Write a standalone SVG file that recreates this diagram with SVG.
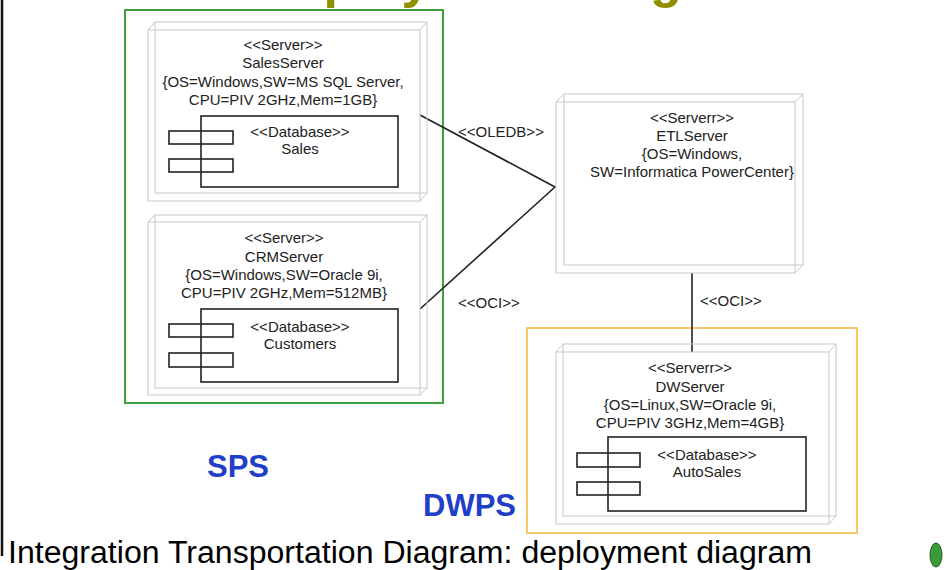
<svg xmlns="http://www.w3.org/2000/svg" width="947" height="570" viewBox="0 0 947 570">
  <style>
    .box { fill: none; stroke: #c8c8c8; stroke-width: 1; }
    .db { fill: none; stroke: #222; stroke-width: 1.6; }
    .t { font-family: "Liberation Sans", Arial, sans-serif; font-size: 15px; fill: #222; text-anchor: middle; }
    .lbl { font-family: "Liberation Sans", Arial, sans-serif; font-size: 15px; fill: #222; }
    .pkg { font-family: "Liberation Sans", Arial, sans-serif; font-size: 31px; font-weight: bold; fill: #1f3fc8; }
    .wire { stroke: #222; stroke-width: 1.6; fill: none; }
  </style>
  <rect width="947" height="570" fill="#fff"/>

  <!-- slide title, running off the top edge -->
  <text x="257" y="-3" font-family="Liberation Sans, Arial, sans-serif" font-size="52" font-weight="bold" fill="#8f8f00">Deployment Diagram</text>

  <!-- slide left border -->
  <line x1="2" y1="0" x2="2" y2="556" stroke="#111" stroke-width="2.5"/>

  <!-- package frames -->
  <g id="sps">
    <rect x="125" y="10" width="318" height="393" fill="none" stroke="#3f9f3f" stroke-width="2"/>
    <text class="pkg" x="207" y="477">SPS</text>
  </g>
  <g id="dwps">
    <rect x="527" y="328" width="330" height="205" fill="none" stroke="#f9c768" stroke-width="2"/>
    <text class="pkg" x="423" y="516">DWPS</text>
  </g>

  <!-- connectors -->
  <g id="connectors">
    <polyline class="wire" points="420,115 555,187 420,309"/>
    <line class="wire" x1="692" y1="273" x2="692" y2="352"/>
    <text class="lbl" x="458" y="137">&lt;&lt;OLEDB&gt;&gt;</text>
    <text class="lbl" x="458" y="308">&lt;&lt;OCI&gt;&gt;</text>
    <text class="lbl" x="700" y="306">&lt;&lt;OCI&gt;&gt;</text>
  </g>

  <!-- SalesServer -->
  <g id="sales-server">
    <rect class="box" x="148" y="30" width="272" height="171"/>
    <rect class="box" x="155" y="22" width="272" height="171"/>
    <path class="box" d="M148,30 L155,22 M420,30 L427,22 M420,201 L427,193"/>
    <text class="t" x="283" y="50">&lt;&lt;Server&gt;&gt;</text>
    <text class="t" x="283" y="68.3">SalesServer</text>
    <text class="t" x="283" y="86.6">{OS=Windows,SW=MS SQL Server,</text>
    <text class="t" x="283" y="105">CPU=PIV 2GHz,Mem=1GB}</text>
    <g id="sales-db">
      <rect class="db" x="201" y="116" width="197" height="71"/>
      <rect class="db" x="169" y="131" width="64" height="13" fill="none"/>
      <rect class="db" x="169" y="159" width="64" height="13" fill="none"/>
      <text class="t" x="300" y="137">&lt;&lt;Database&gt;&gt;</text>
      <text class="t" x="300" y="154">Sales</text>
    </g>
  </g>

  <!-- CRMServer -->
  <g id="crm-server">
    <rect class="box" x="148" y="222" width="272" height="173"/>
    <rect class="box" x="155" y="215" width="272" height="173"/>
    <path class="box" d="M148,222 L155,215 M420,222 L427,215 M420,395 L427,388"/>
    <text class="t" x="284" y="243">&lt;&lt;Server&gt;&gt;</text>
    <text class="t" x="284" y="261.5">CRMServer</text>
    <text class="t" x="284" y="280">{OS=Windows,SW=Oracle 9i,</text>
    <text class="t" x="284" y="298">CPU=PIV 2GHz,Mem=512MB}</text>
    <g id="customers-db">
      <rect class="db" x="201" y="309" width="197" height="73"/>
      <rect class="db" x="169" y="324" width="64" height="13"/>
      <rect class="db" x="169" y="353" width="64" height="14"/>
      <text class="t" x="300" y="332">&lt;&lt;Database&gt;&gt;</text>
      <text class="t" x="300" y="348.5">Customers</text>
    </g>
  </g>

  <!-- ETLServer -->
  <g id="etl-server">
    <rect class="box" x="556" y="102" width="239" height="171"/>
    <rect class="box" x="564" y="94" width="239" height="171"/>
    <path class="box" d="M556,102 L564,94 M795,102 L803,94 M795,273 L803,265"/>
    <text class="t" x="692" y="123">&lt;&lt;Serverr&gt;&gt;</text>
    <text class="t" x="692" y="140.5">ETLServer</text>
    <text class="t" x="692" y="158.5">{OS=Windows,</text>
    <text class="t" x="692" y="176.5">SW=Informatica PowerCenter}</text>
  </g>

  <!-- DWServer -->
  <g id="dw-server">
    <rect class="box" x="556" y="352" width="273" height="172"/>
    <rect class="box" x="563" y="344" width="273" height="172"/>
    <path class="box" d="M556,352 L563,344 M829,352 L836,344 M829,524 L836,516"/>
    <text class="t" x="690" y="373">&lt;&lt;Serverr&gt;&gt;</text>
    <text class="t" x="690" y="391.5">DWServer</text>
    <text class="t" x="690" y="409.5">{OS=Linux,SW=Oracle 9i,</text>
    <text class="t" x="690" y="427.5">CPU=PIV 3GHz,Mem=4GB}</text>
    <g id="autosales-db">
      <rect class="db" x="608" y="437" width="198" height="74"/>
      <rect class="db" x="577" y="453" width="63" height="14"/>
      <rect class="db" x="577" y="482" width="63" height="13"/>
      <text class="t" x="707" y="460">&lt;&lt;Database&gt;&gt;</text>
      <text class="t" x="707" y="476.5">AutoSales</text>
    </g>
  </g>

  <!-- caption -->
  <text x="8" y="563" font-family="Liberation Sans, Arial, sans-serif" font-size="31" fill="#000" textLength="804" lengthAdjust="spacingAndGlyphs">Integration Transportation Diagram: deployment diagram</text>

  <!-- slide marker -->
  <ellipse cx="936" cy="555" rx="6" ry="12" fill="#3a9a3a" stroke="#1f5f1f" stroke-width="1"/>
</svg>
